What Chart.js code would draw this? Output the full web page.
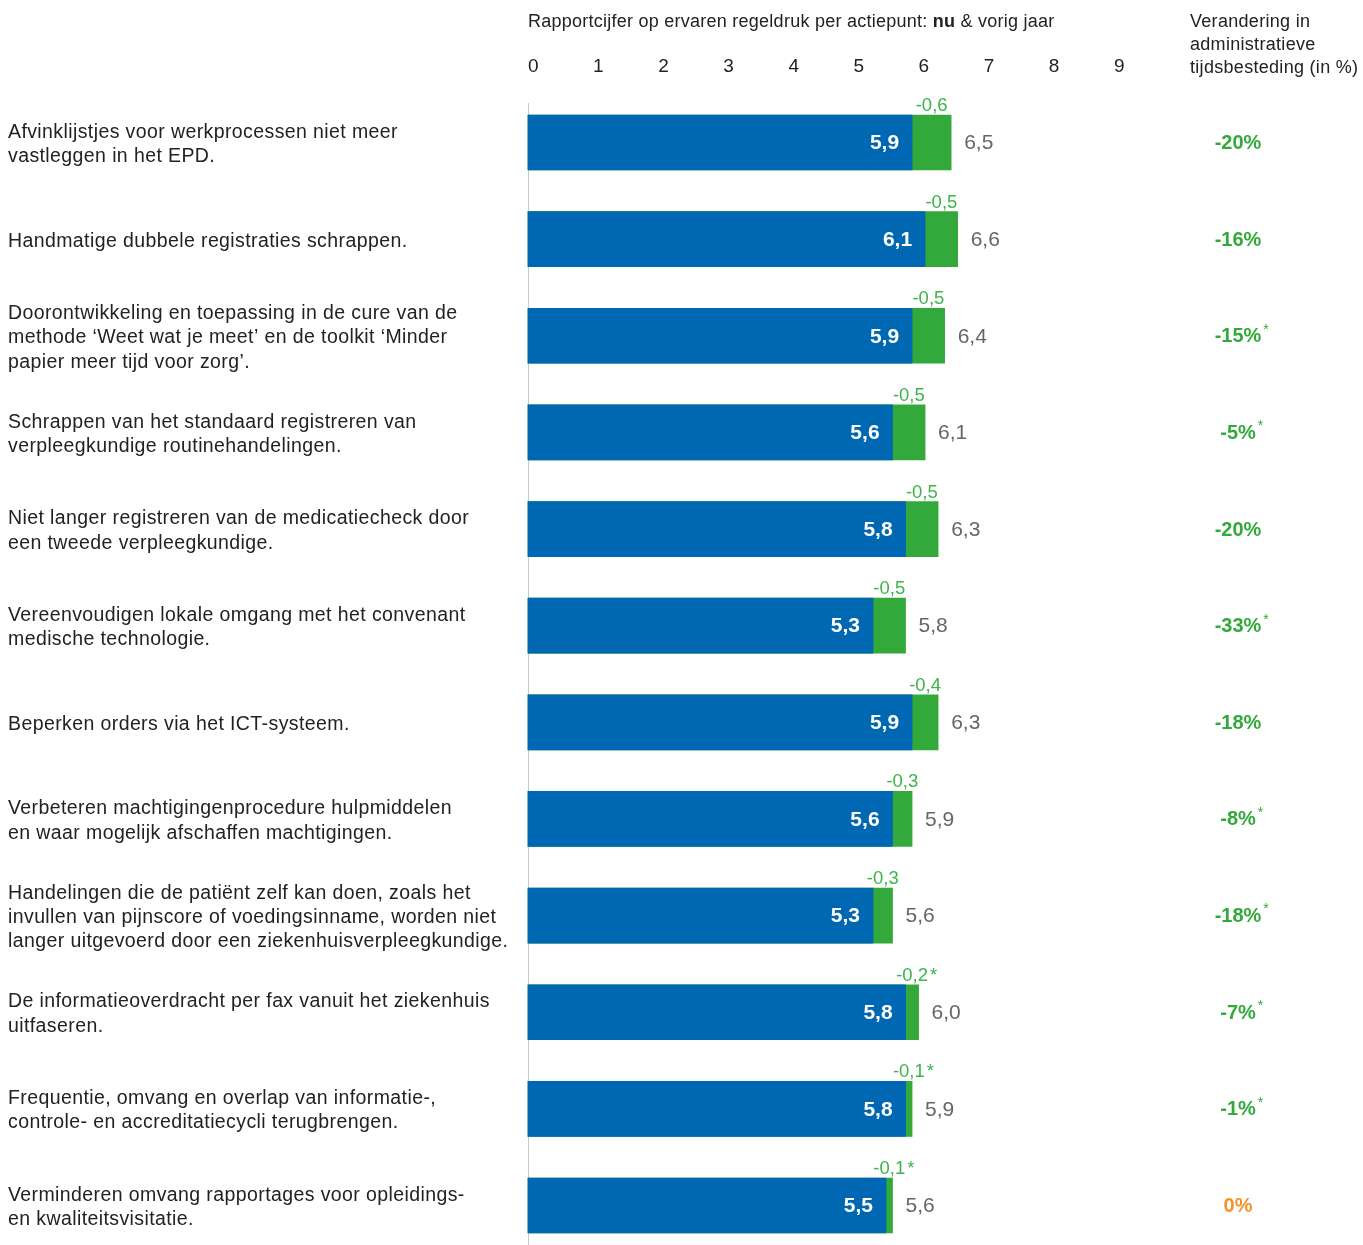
<!DOCTYPE html>
<html>
<head>
<meta charset="utf-8">
<script src="https://cdn.jsdelivr.net/npm/chart.js@4/dist/chart.umd.min.js"></script>
<style>
  body { margin: 0; background: #fff; }
  #wrap { width: 1363px; height: 1245px; position: relative; }
</style>
</head>
<body>
<div id="wrap"><canvas id="regeldruk"></canvas></div>
<script>
// actiepunten (left labels, already broken into lines)
const actions = [
    ["Afvinklijstjes voor werkprocessen niet meer", "vastleggen in het EPD."],
    ["Handmatige dubbele registraties schrappen."],
    ["Doorontwikkeling en toepassing in de cure van de", "methode ‘Weet wat je meet’ en de toolkit ‘Minder", "papier meer tijd voor zorg’."],
    ["Schrappen van het standaard registreren van", "verpleegkundige routinehandelingen."],
    ["Niet langer registreren van de medicatiecheck door", "een tweede verpleegkundige."],
    ["Vereenvoudigen lokale omgang met het convenant", "medische technologie."],
    ["Beperken orders via het ICT-systeem."],
    ["Verbeteren machtigingenprocedure hulpmiddelen", "en waar mogelijk afschaffen machtigingen."],
    ["Handelingen die de patiënt zelf kan doen, zoals het", "invullen van pijnscore of voedingsinname, worden niet", "langer uitgevoerd door een ziekenhuisverpleegkundige."],
    ["De informatieoverdracht per fax vanuit het ziekenhuis", "uitfaseren."],
    ["Frequentie, omvang en overlap van informatie-,", "controle- en accreditatiecycli terugbrengen."],
    ["Verminderen omvang rapportages voor opleidings-", "en kwaliteitsvisitatie."]
];

// rapportcijfers
const nowScores = [5.9, 6.1, 5.9, 5.6, 5.8, 5.3, 5.9, 5.6, 5.3, 5.8, 5.8, 5.5];
const lastYearScores = [6.5, 6.6, 6.4, 6.1, 6.3, 5.8, 6.3, 5.9, 5.6, 6.0, 5.9, 5.6];
const scoreDiffs = [-0.6, -0.5, -0.5, -0.5, -0.5, -0.5, -0.4, -0.3, -0.3, -0.2, -0.1, -0.1];
const diffStars = [false, false, false, false, false, false, false, false, false, true, true, true];

// verandering in administratieve tijdsbesteding (%)
const timeChanges = [-20, -16, -15, -5, -20, -33, -18, -8, -18, -7, -1, 0];
const timeStars = [false, false, true, true, false, true, false, true, true, true, true, false];

// x axis ticks
const scoreTicks = [0, 1, 2, 3, 4, 5, 6, 7, 8, 9];

const FONT = "'Liberation Sans', Arial, sans-serif";
const BLUE = '#0068b3';
const GREEN = '#33a93b';
const GREEN_TEXT = '#3cb44a';
const ORANGE = '#f39325';

function nl(v) {
    return v.toFixed(1).replace('.', ',');
}

// draws the extra texts round the bars
const labelsPlugin = {
    id: 'labelsPlugin',
    beforeDraw(chart) {
        // the reference font runs a bit wider than Arial
        chart.ctx.letterSpacing = '0.4px';
    },
    beforeDatasetsDraw(chart) {
        const ctx = chart.ctx;
        const xs = chart.scales.x;
        const x0 = xs.getPixelForValue(0);
        ctx.save();
        ctx.strokeStyle = '#c8c8c8';
        ctx.lineWidth = 1;
        ctx.beginPath();
        ctx.moveTo(Math.round(x0) + 0.5, 103);
        ctx.lineTo(Math.round(x0) + 0.5, chart.height);
        ctx.stroke();

        // tick labels of the score axis
        ctx.letterSpacing = '0px';
        ctx.font = '19px ' + FONT;
        ctx.fillStyle = '#222';
        ctx.textAlign = 'left';
        ctx.textBaseline = 'middle';
        scoreTicks.forEach(v => {
            ctx.fillText(String(v), xs.getPixelForValue(v), 67);
        });
        ctx.restore();
    },
    afterDatasetsDraw(chart) {
        const ctx = chart.ctx;
        const xs = chart.scales.x;
        const nowMeta = chart.getDatasetMeta(0);
        const prevMeta = chart.getDatasetMeta(1);
        ctx.save();
        ctx.textBaseline = 'middle';
        ctx.letterSpacing = '0px';

        nowScores.forEach((v, i) => {
            const bar = nowMeta.data[i];
            const prevBar = prevMeta.data[i];
            const yc = bar.y;
            const top = bar.y - bar.height / 2;

            // now value inside the blue bar
            ctx.font = 'bold 21px ' + FONT;
            ctx.fillStyle = '#fff';
            ctx.textAlign = 'right';
            ctx.fillText(nl(v), bar.x - 13, yc + 1);

            // last year value next to the bar
            ctx.font = '21px ' + FONT;
            ctx.fillStyle = '#666';
            ctx.textAlign = 'left';
            ctx.fillText(nl(lastYearScores[i]), prevBar.x + 13, yc + 1);

            // difference above the green part
            ctx.font = '18.5px ' + FONT;
            ctx.fillStyle = GREEN_TEXT;
            ctx.textAlign = 'center';
            ctx.textBaseline = 'alphabetic';
            const mid = (bar.x + prevBar.x) / 2;
            const txt = nl(scoreDiffs[i]);
            ctx.fillText(txt, mid, top - 4);
            if (diffStars[i]) {
                const w = ctx.measureText(txt).width;
                ctx.textAlign = 'left';
                ctx.fillText('*', mid + w / 2 + 2, top - 4);
            }
            ctx.textBaseline = 'middle';

            // percentage column
            const pct = timeChanges[i] + '%';
            ctx.font = 'bold 20px ' + FONT;
            ctx.fillStyle = timeChanges[i] === 0 ? ORANGE : GREEN;
            ctx.textAlign = 'center';
            ctx.fillText(pct, 1238, yc + 1);
            if (timeStars[i]) {
                const w = ctx.measureText(pct).width;
                ctx.font = '14px ' + FONT;
                ctx.textAlign = 'left';
                ctx.fillText('*', 1238 + w / 2 + 2, yc - 6);
            }
        });

        // title above the axis
        ctx.textAlign = 'left';
        ctx.fillStyle = '#222';
        ctx.letterSpacing = '0.25px';
        let tx = xs.getPixelForValue(0);
        const parts = [
            ['18px ', 'Rapportcijfer op ervaren regeldruk per actiepunt: '],
            ['bold 18px ', 'nu'],
            ['18px ', ' & vorig jaar']
        ];
        parts.forEach(p => {
            ctx.font = p[0] + FONT;
            ctx.fillText(p[1], tx, 22);
            tx += ctx.measureText(p[1]).width;
        });

        // header of the right column
        ctx.font = '18px ' + FONT;
        ctx.letterSpacing = '0.3px';
        ['Verandering in', 'administratieve', 'tijdsbesteding (in %)'].forEach((line, k) => {
            ctx.fillText(line, 1190, 22 + k * 23);
        });
        ctx.restore();
    }
};

const chart = new Chart(document.getElementById('regeldruk'), {
    type: 'bar',
    data: {
        labels: actions,
        datasets: [
            {
                label: 'nu',
                data: nowScores,
                backgroundColor: BLUE,
                barThickness: 55,
                grouped: false,
                order: 0,
                clip: false
            },
            {
                label: 'vorig jaar',
                data: lastYearScores,
                backgroundColor: GREEN,
                barThickness: 55,
                grouped: false,
                order: 1,
                clip: false
            }
        ]
    },
    options: {
        indexAxis: 'y',
        responsive: true,
        maintainAspectRatio: false,
        animation: false,
        layout: {
            padding: { top: 142.5, left: 8, right: 184, bottom: 39.5 }
        },
        plugins: {
            legend: { display: false },
            tooltip: { enabled: false }
        },
        scales: {
            x: {
                position: 'top',
                min: 0,
                max: 10,
                grid: { display: false, drawTicks: false },
                border: { display: false },
                ticks: { display: false }
            },
            y: {
                offset: false,
                grid: { display: false, drawTicks: false },
                border: { display: false },
                afterFit: (scale) => {
                    scale.width = 520;
                },
                ticks: {
                    crossAlign: 'far',
                    padding: 0,
                    labelOffset: 2,
                    color: '#222',
                    font: { family: FONT, size: 19.5, lineHeight: 1.25 },
                    autoSkip: false
                }
            }
        }
    },
    plugins: [labelsPlugin]
});
</script>
</body>
</html>
